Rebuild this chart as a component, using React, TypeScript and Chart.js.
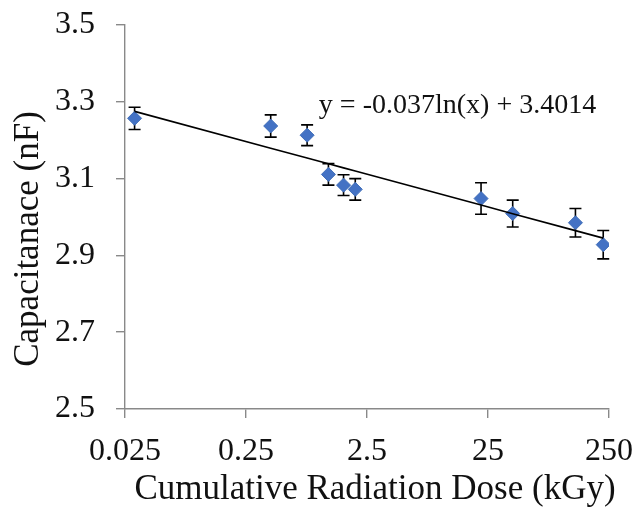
import React, { useEffect, useRef } from "react";
import { Chart, registerables } from "chart.js";

Chart.register(...registerables);

// ---- data ----
const doseKGy = [0.03, 0.4, 0.8, 1.2, 1.6, 2.0, 21.9, 40, 132, 224];
const capacitanceNF = [3.257, 3.237, 3.213, 3.111, 3.083, 3.072, 3.048, 3.009, 2.985, 2.928];
const errorNF = [0.029, 0.029, 0.027, 0.028, 0.027, 0.028, 0.041, 0.035, 0.037, 0.037];
const xTicks = [0.025, 0.25, 2.5, 25, 250];
const yTicks = [2.5, 2.7, 2.9, 3.1, 3.3, 3.5];
const xTitle = "Cumulative Radiation Dose (kGy)";
const yTitle = "Capacitanace (nF)";
const trendLabel = "y = -0.037ln(x) + 3.4014";
const trendLabelAt = { x: 1.0, y: 3.27 };

// logarithmic least-squares trendline (as a spreadsheet would fit it)
function logFit(xs: number[], ys: number[]) {
  const lx = xs.map((v) => Math.log(v));
  const mx = lx.reduce((a, b) => a + b, 0) / lx.length;
  const my = ys.reduce((a, b) => a + b, 0) / ys.length;
  let sxy = 0;
  let sxx = 0;
  lx.forEach((v, i) => {
    sxy += (v - mx) * (ys[i] - my);
    sxx += (v - mx) * (v - mx);
  });
  const slope = sxy / sxx;
  return { slope, intercept: my - slope * mx };
}

const FONT = "'Liberation Serif', 'Times New Roman', serif";
const AXIS_GRAY = "#898989";

export default function App() {
  const ref = useRef<HTMLCanvasElement | null>(null);

  useEffect(() => {
    if (!ref.current) return;
    const fit = logFit(doseKGy, capacitanceNF);
    const trendData = doseKGy.map((d) => ({ x: d, y: fit.slope * Math.log(d) + fit.intercept }));

    const extras = {
      id: "extras",
      beforeDatasetsDraw(chart: any) {
        const { ctx } = chart;
        const x = chart.scales.x;
        const y = chart.scales.y;
        ctx.save();
        ctx.strokeStyle = "#000";
        ctx.lineWidth = 1.6;
        doseKGy.forEach((d, i) => {
          const px = x.getPixelForValue(d);
          const top = y.getPixelForValue(capacitanceNF[i] + errorNF[i]);
          const bot = y.getPixelForValue(capacitanceNF[i] - errorNF[i]);
          ctx.beginPath();
          ctx.moveTo(px, top);
          ctx.lineTo(px, bot);
          ctx.moveTo(px - 6, top);
          ctx.lineTo(px + 6, top);
          ctx.moveTo(px - 6, bot);
          ctx.lineTo(px + 6, bot);
          ctx.stroke();
        });
        ctx.restore();
      },
      afterDraw(chart: any) {
        const { ctx, chartArea } = chart;
        const x = chart.scales.x;
        const y = chart.scales.y;
        ctx.save();
        ctx.fillStyle = "#111";
        ctx.font = `28px ${FONT}`;
        ctx.textAlign = "left";
        ctx.textBaseline = "alphabetic";
        ctx.fillText(trendLabel, x.getPixelForValue(trendLabelAt.x), y.getPixelForValue(trendLabelAt.y));
        // x axis title
        ctx.font = `35px ${FONT}`;
        ctx.textAlign = "center";
        ctx.fillText(xTitle, (chartArea.left + chartArea.right) / 2 + 8, chartArea.bottom + 90);
        // y axis title
        ctx.textBaseline = "middle";
        ctx.translate(29, (chartArea.top + chartArea.bottom) / 2 + 22);
        ctx.rotate(-Math.PI / 2);
        ctx.fillText(yTitle, 0, 0);
        ctx.restore();
      },
    };

    const chart = new Chart(ref.current, {
      type: "scatter",
      data: {
        datasets: [
          {
            label: "trend",
            data: trendData,
            showLine: true,
            borderColor: "#000",
            borderWidth: 1.6,
            pointRadius: 0,
            pointHoverRadius: 0,
            fill: false,
          },
          {
            label: "Capacitance",
            data: doseKGy.map((d, i) => ({ x: d, y: capacitanceNF[i] })),
            pointStyle: "rectRot",
            pointRadius: 7,
            backgroundColor: "#4472C4",
            borderColor: "#3F6DB8",
            borderWidth: 1,
          },
        ],
      },
      options: {
        animation: false,
        responsive: false,
        devicePixelRatio: 1,
        layout: { padding: { left: 0, top: 25, right: 35, bottom: 0 } },
        plugins: { legend: { display: false }, tooltip: { enabled: false } },
        scales: {
          x: {
            type: "logarithmic",
            min: 0.025,
            max: 250,
            afterBuildTicks: (s: any) => {
              s.ticks = xTicks.map((v) => ({ value: v }));
            },
            afterFit: (s: any) => {
              s.height = 102;
              s.paddingLeft = 0;
              s.paddingRight = 0;
            },
            ticks: {
              callback: (v: any) => String(v),
              font: { family: FONT, size: 32 },
              color: "#111",
              padding: 14,
              maxRotation: 0,
              autoSkip: false,
            },
            grid: {
              display: true,
              drawOnChartArea: false,
              drawTicks: true,
              tickLength: 9,
              color: AXIS_GRAY,
              lineWidth: 1.4,
            },
            border: { display: true, color: AXIS_GRAY, width: 1.4 },
          },
          y: {
            type: "linear",
            min: 2.5,
            max: 3.5,
            afterBuildTicks: (s: any) => {
              s.ticks = yTicks.map((v) => ({ value: v }));
            },
            afterFit: (s: any) => {
              s.width = 125;
              s.paddingTop = 0;
              s.paddingBottom = 0;
            },
            ticks: {
              callback: (v: any) => Number(v).toFixed(1),
              font: { family: FONT, size: 32 },
              color: "#111",
              padding: 21,
            },
            grid: {
              display: true,
              drawOnChartArea: false,
              drawTicks: true,
              tickLength: 9,
              color: AXIS_GRAY,
              lineWidth: 1.4,
            },
            border: { display: true, color: AXIS_GRAY, width: 1.4 },
          },
        },
      },
      plugins: [extras],
    } as any);

    return () => chart.destroy();
  }, []);

  return (
    <div style={{ position: "fixed", left: 0, top: 0, width: 644, height: 511, background: "#fff" }}>
      <canvas ref={ref} width={644} height={511} style={{ display: "block", width: 644, height: 511 }} />
    </div>
  );
}
